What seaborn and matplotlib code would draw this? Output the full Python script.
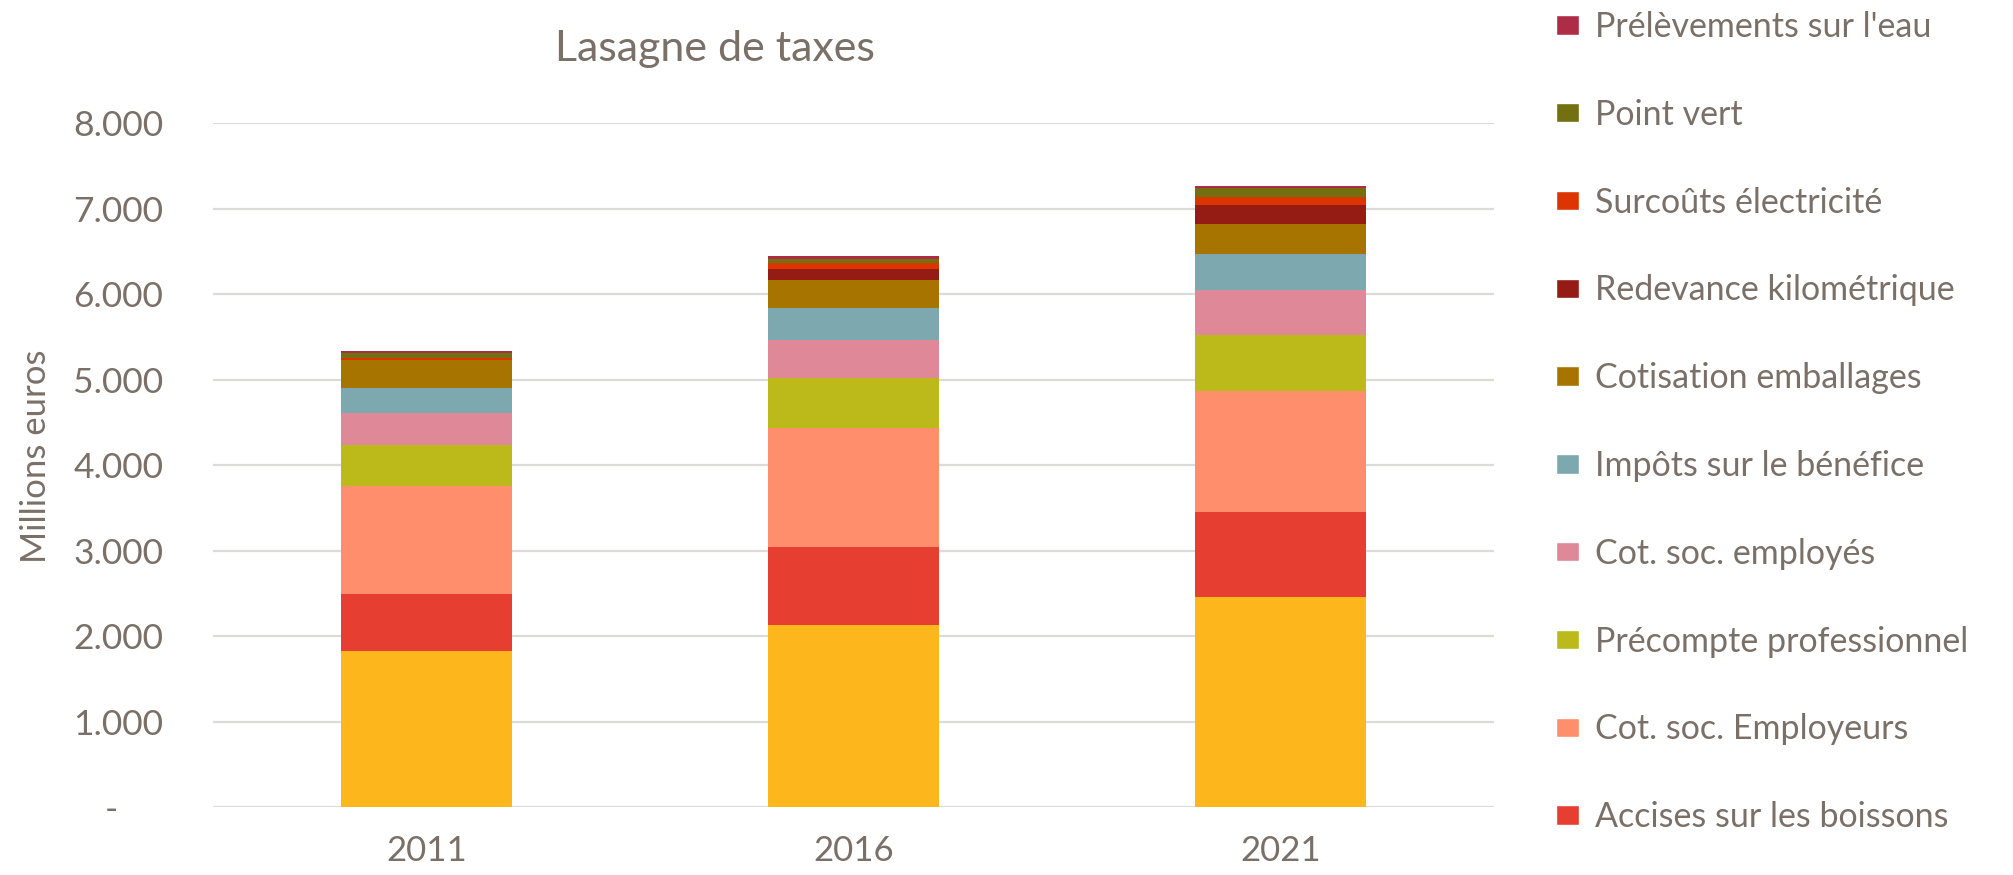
import numpy as np
import pandas as pd
import matplotlib.pyplot as plt
import seaborn as sns
from matplotlib.patches import Patch
from matplotlib.ticker import FuncFormatter

# Données (millions d'euros), de bas en haut dans chaque barre
annees = ['2011', '2016', '2021']
series = ['TVA', 'Accises sur les boissons', 'Cot. soc. Employeurs', 'Précompte professionnel',
          'Cot. soc. employés', 'Impôts sur le bénéfice', 'Cotisation emballages',
          'Redevance kilométrique', 'Surcoûts électricité', 'Point vert', "Prélèvements sur l'eau"]
tva = [1824, 2131, 2455]
accises = [669, 911, 996]
cot_employeurs = [1266, 1394, 1412]
precompte = [478, 579, 658]
cot_employes = [377, 448, 525]
impots_benefice = [292, 373, 424]
emballages = [323, 331, 351]
redevance_km = [0, 128, 221]
surcouts_elec = [19, 67, 90]
point_vert = [63, 50, 105]
prelevements_eau = [23, 31, 30]

couleurs = ['#FDB71D', '#E63E30', '#FF8E6C', '#BCBA1A', '#DF8898', '#7DA8AF',
            '#A87400', '#951C14', '#DD3500', '#727010', '#AE2D46']

valeurs = [tva, accises, cot_employeurs, precompte, cot_employes, impots_benefice,
           emballages, redevance_km, surcouts_elec, point_vert, prelevements_eau]
df = pd.DataFrame(np.array(valeurs).T, columns=series, index=annees)
cumul = df.cumsum(axis=1)

gris = '#7B7068'
sns.set_style('white')
plt.rcParams['font.family'] = ['Lato', 'DejaVu Sans']

fig = plt.figure(figsize=(20.13, 8.75), dpi=100)
ax = fig.add_axes([0.106, 0.0777, 0.636, 0.7817])

# barres empilées : on dessine les cumuls du haut vers le bas
for i in range(len(series) - 1, -1, -1):
    sns.barplot(x=annees, y=cumul[series[i]].values, color=couleurs[i],
                width=0.4, linewidth=0, saturation=1, ax=ax)

def fmt(v, p):
    if v == 0:
        return '-' + '\u00a0' * 5
    return f'{int(v):,}'.replace(',', '.')

ax.set_xlim(-0.5, 2.5)
ax.set_ylim(0, 8000)
ax.set_yticks(range(0, 8001, 1000))
ax.yaxis.set_major_formatter(FuncFormatter(fmt))
ax.grid(axis='y', color='#DDDBD9', linewidth=1.6)
ax.set_axisbelow(True)
sns.despine(ax=ax, left=True, bottom=True)
ax.tick_params(axis='y', length=0, pad=36, labelsize=25.5, labelcolor=gris)
ax.tick_params(axis='x', length=0, pad=20, labelsize=25, labelcolor=gris)
ax.set_xlabel('')
ax.set_ylabel('')

fig.text(0.018, 0.479, 'Millions euros', rotation=90, ha='center', va='center',
         fontsize=25, color=gris)
fig.text(0.355, 0.944, 'Lasagne de taxes', ha='center', va='center', fontsize=31, color=gris)

# légende (la dernière entrée sort du cadre dans l'original)
poignees = [Patch(facecolor=couleurs[i], label=series[i]) for i in range(len(series) - 1, 0, -1)]
fig.legend(handles=poignees, loc='upper left', bbox_to_anchor=(0.766, 1.003), frameon=False,
           fontsize=24.5, labelcolor=gris, handlelength=0.7, handleheight=0.5,
           handletextpad=0.45, labelspacing=1.64, borderaxespad=0)

fig.savefig('out.png', dpi=100)
